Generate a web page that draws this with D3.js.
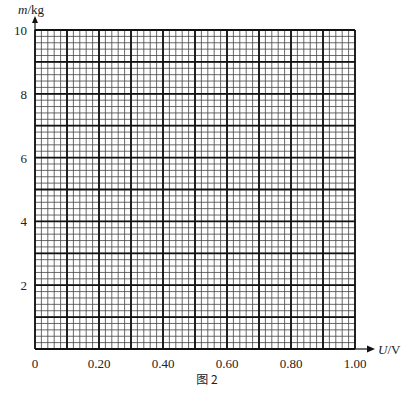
<!DOCTYPE html>
<html>
<head>
<meta charset="utf-8">
<script src="https://cdn.jsdelivr.net/npm/d3@7"></script>
<style>
body { margin: 0; background: #fff; }
text { font-family: "Liberation Serif", "DejaVu Serif", serif; }
</style>
</head>
<body>
<script>
// axis values
var xDomain = [0, 1.00],
    yDomain = [0, 10];
var xLabels = [0, 0.20, 0.40, 0.60, 0.80, 1.00];
var yLabels = [2, 4, 6, 8, 10];
var xMajorStep = 0.10, xMinorStep = 0.02;
var yMajorStep = 1, yMinorStep = 0.2;

var margin = { top: 30, right: 58, bottom: 46, left: 35 },
    width = 413 - margin.left - margin.right,
    height = 395 - margin.top - margin.bottom;

var svg = d3.select("body")
    .append("svg")
    .attr("width", 413)
    .attr("height", 395);

var g = svg.append("g").attr("transform", "translate(" + margin.left + "," + margin.top + ")");

var x = d3.scaleLinear().domain(xDomain).range([0, width]),
    y = d3.scaleLinear().domain(yDomain).range([height, 0]);

function steps(lo, hi, s) {
    var n = Math.round((hi - lo) / s), out = [];
    for (var i = 0; i <= n; i++) out.push(lo + i * s);
    return out;
}

var xMinor = steps(xDomain[0], xDomain[1], xMinorStep),
    yMinor = steps(yDomain[0], yDomain[1], yMinorStep),
    xMajor = steps(xDomain[0], xDomain[1], xMajorStep),
    yMajor = steps(yDomain[0], yDomain[1], yMajorStep);

// minor grid
g.selectAll(".vminor").data(xMinor).enter().append("line")
    .attr("x1", function (d) { return x(d); }).attr("x2", function (d) { return x(d); })
    .attr("y1", 0).attr("y2", height)
    .attr("stroke", "#444").attr("stroke-width", 0.8);
g.selectAll(".hminor").data(yMinor).enter().append("line")
    .attr("y1", function (d) { return y(d); }).attr("y2", function (d) { return y(d); })
    .attr("x1", 0).attr("x2", width)
    .attr("stroke", "#444").attr("stroke-width", 0.8);

// major grid
g.selectAll(".vmajor").data(xMajor).enter().append("line")
    .attr("x1", function (d) { return x(d); }).attr("x2", function (d) { return x(d); })
    .attr("y1", 0).attr("y2", height)
    .attr("stroke", "#111").attr("stroke-width", 1.8);
g.selectAll(".hmajor").data(yMajor).enter().append("line")
    .attr("y1", function (d) { return y(d); }).attr("y2", function (d) { return y(d); })
    .attr("x1", 0).attr("x2", width)
    .attr("stroke", "#111").attr("stroke-width", 1.8);

// arrows
g.append("path")
    .attr("d", "M" + width + "," + height + "H" + (width + 14))
    .attr("stroke", "#111").attr("stroke-width", 1.2);
g.append("path")
    .attr("d", "M" + (width + 20) + "," + height + "l-8,-3.5v7z")
    .attr("fill", "#111");
g.append("path")
    .attr("d", "M0,0V-8")
    .attr("stroke", "#111").attr("stroke-width", 1.2);
g.append("path")
    .attr("d", "M-3,-7l3,-7l3,7z")
    .attr("fill", "#111");

// tick labels
g.selectAll(".xl").data(xLabels).enter().append("text")
    .attr("x", function (d) { return x(d); })
    .attr("y", height + 19)
    .attr("text-anchor", "middle")
    .attr("font-size", 13)
    .attr("fill", "#222")
    .text(function (d) { return d === 0 ? "0" : d.toFixed(2); });

g.selectAll(".yl").data(yLabels).enter().append("text")
    .attr("x", -8)
    .attr("y", function (d) { return y(d) + 5; })
    .attr("text-anchor", "end")
    .attr("font-size", 13)
    .attr("fill", "#222")
    .text(function (d) { return d; });

// axis titles
var yt = g.append("text").attr("x", -17).attr("y", -16).attr("font-size", 13).attr("fill", "#222");
yt.append("tspan").attr("font-style", "italic").text("m");
yt.append("tspan").text("/kg");

var xt = g.append("text").attr("x", width + 23).attr("y", height + 5).attr("font-size", 13).attr("fill", "#222");
xt.append("tspan").attr("font-style", "italic").text("U");
xt.append("tspan").text("/V");

svg.append("text")
    .attr("x", 207).attr("y", 384)
    .attr("text-anchor", "middle")
    .attr("font-size", 12)
    .attr("fill", "#222")
    .style("font-family", "'Noto Sans CJK SC', sans-serif")
    .text("图 2");
</script>
</body>
</html>
